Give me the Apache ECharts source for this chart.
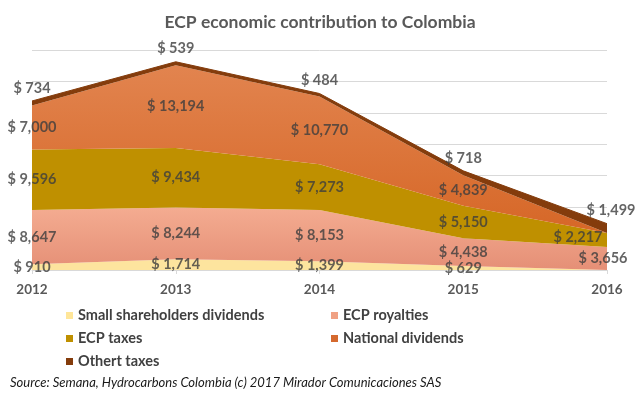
<!DOCTYPE html>
<html>
<head>
<meta charset="utf-8">
<script src="https://cdn.jsdelivr.net/npm/echarts@6/dist/echarts.min.js"></script>
<style>html,body{margin:0;padding:0;background:#fff}#c{width:640px;height:396px}</style>
</head>
<body>
<div id="c"></div>
<script>
const years = ['2012', '2013', '2014', '2015', '2016'];
const seriesNames = ['Small shareholders dividends', 'ECP royalties', 'ECP taxes', 'National dividends', 'Othert taxes'];
const smallDividends = [910, 1714, 1399, 629, 0];
const ecpRoyalties = [8647, 8244, 8153, 4438, 3656];
const ecpTaxes = [9596, 9434, 7273, 5150, 2217];
const nationalDividends = [7000, 13194, 10770, 4839, 0];
const otherTaxes = [734, 539, 484, 718, 1499];

const values = [smallDividends, ecpRoyalties, ecpTaxes, nationalDividends, otherTaxes];
const FONT = 'Lato';
const legendColors = ['#FFE699', '#F0A184', '#BF9000', '#D5692E', '#843C0C'];
const fills = [
  '#FDE49E',
  {type:'linear',x:0,y:0,x2:0,y2:1,colorStops:[{offset:0,color:'#F4AC91'},{offset:1,color:'#E58F76'}]},
  '#BF9000',
  {type:'linear',x:0,y:0,x2:0,y2:1,colorStops:[{offset:0,color:'#E2844F'},{offset:1,color:'#D66727'}]},
  '#843C0C'
];

function fmt(v){ return '$ ' + v.toLocaleString('en-US'); }

const series = [];
values.forEach((arr, s) => {
  series.push({
    name: seriesNames[s], type: 'line', stack: 'total', data: arr,
    symbol: 'none', smooth: false,
    lineStyle: {width: s === 4 ? 1 : 0, color: legendColors[s]},
    itemStyle: {color: legendColors[s]},
    areaStyle: {color: fills[s], opacity: 1},
    emphasis: {disabled: true}, silent: true, z: 2
  });
});

// label positions computed from the data through the stacked totals
for (let s = 0; s < values.length; s++) {
  const pts = [];
  for (let i = 0; i < years.length; i++) {
    let below = 0;
    for (let k = 0; k < s; k++) below += values[k][i];
    const v = values[s][i];
    if (v === 0) continue;
    const isTop = s === values.length - 1;
    const y = isTop ? below + v : below + v / 2;
    const item = {value: [i, y], raw: v};
    if (i === years.length - 1) {
      const off = [[0,0],[-4,0],[-29,-3],[0,0],[4,0]][s];
      item.label = {offset: off};
    }
    pts.push(item);
  }
  series.push({
    type: 'scatter', data: pts, symbolSize: 1, silent: true, z: 5,
    itemStyle: {color: 'rgba(0,0,0,0)'},
    label: {
      show: true, position: s === values.length - 1 ? 'top' : 'inside',
      distance: 5,
      formatter: p => fmt(p.data.raw),
      fontFamily: FONT, fontWeight: 'bold', fontSize: 14.5, color: '#3d3d3d'
    }
  });
}

const legendText = {fontFamily: FONT, fontWeight: 'bold', fontSize: 14.5, color: '#404040'};
const chart = echarts.init(document.getElementById('c'), null, {renderer: 'canvas'});
chart.setOption({
  animation: false,
  backgroundColor: '#fff',
  title: {
    text: 'ECP economic contribution to Colombia', left: 'center', top: 13, padding: 0,
    textStyle: {fontFamily: FONT, fontWeight: 'bold', fontSize: 17.5, color: '#595959'}
  },
  grid: {left: 32, right: 33, top: 50, bottom: 126, containLabel: false},
  legend: [
    {data: [seriesNames[0], seriesNames[2], seriesNames[4]], orient: 'vertical', left: 66, top: 308,
     itemGap: 8, itemWidth: 7, itemHeight: 7, icon: 'rect', padding: 0, textStyle: legendText, selectedMode: false},
    {data: [seriesNames[1], seriesNames[3]], orient: 'vertical', left: 331, top: 308,
     itemGap: 8, itemWidth: 7, itemHeight: 7, icon: 'rect', padding: 0, textStyle: legendText, selectedMode: false}
  ],
  xAxis: {
    type: 'category', data: years, boundaryGap: false,
    axisLine: {show: true, lineStyle: {color: '#D9D9D9'}},
    axisTick: {show: true, length: 4, lineStyle: {color: '#D9D9D9'}},
    axisLabel: {fontFamily: FONT, fontWeight: 'bold', fontSize: 13.5, color: '#595959', margin: 13}
  },
  yAxis: {
    type: 'value', min: 0, max: 35000, interval: 5000,
    axisLabel: {show: false}, axisLine: {show: false}, axisTick: {show: false},
    splitLine: {lineStyle: {color: '#D9D9D9'}}
  },
  graphic: [{
    type: 'text', left: 10, top: 376,
    style: {text: 'Source: Semana, Hydrocarbons Colombia (c) 2017 Mirador Comunicaciones SAS',
      font: 'italic 13px Lato', fill: '#1a1a1a'}
  }],
  series: series
});
</script>
</body>
</html>
